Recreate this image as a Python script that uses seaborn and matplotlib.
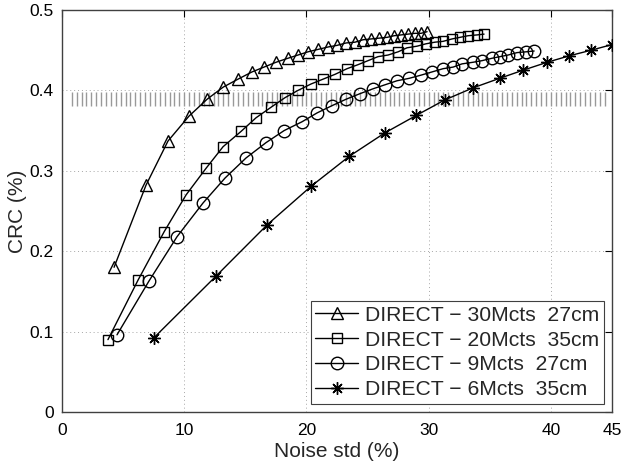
import numpy as np
import pandas as pd
import seaborn as sns
import matplotlib.pyplot as plt

# Valores (Noise std en %, CRC)
tri_x = [4.26, 6.87, 8.67, 10.39, 11.87, 13.18, 14.40, 15.55, 16.53, 17.51, 18.49, 19.31,
         20.13, 20.95, 21.77, 22.50, 23.24, 23.98, 24.63, 25.29, 25.94, 26.60, 27.17, 27.74,
         28.31, 28.89, 29.38, 29.87]
tri_y = [0.180, 0.282, 0.337, 0.368, 0.389, 0.404, 0.414, 0.423, 0.429, 0.435, 0.440, 0.444,
         0.448, 0.451, 0.454, 0.456, 0.459, 0.460, 0.463, 0.464, 0.465, 0.466, 0.468, 0.469,
         0.470, 0.471, 0.471, 0.473]

sq_x = [3.76, 6.22, 8.35, 10.15, 11.78, 13.18, 14.65, 15.88, 17.10, 18.25, 19.31, 20.38,
        21.36, 22.34, 23.32, 24.22, 25.04, 25.86, 26.68, 27.50, 28.23, 29.05, 29.79, 30.52,
        31.18, 31.91, 32.57, 33.22, 33.96, 34.53]
sq_y = [0.090, 0.164, 0.224, 0.270, 0.303, 0.330, 0.349, 0.366, 0.379, 0.391, 0.400, 0.408,
        0.414, 0.420, 0.427, 0.432, 0.437, 0.442, 0.444, 0.448, 0.453, 0.455, 0.458, 0.460,
        0.461, 0.464, 0.466, 0.468, 0.469, 0.470]

circ_x = [4.50, 7.12, 9.41, 11.54, 13.34, 15.06, 16.69, 18.17, 19.64, 20.87, 22.09, 23.24,
          24.39, 25.45, 26.43, 27.41, 28.40, 29.38, 30.28, 31.18, 32.00, 32.73, 33.63, 34.37,
          35.19, 35.84, 36.50, 37.23, 37.97, 38.63]
circ_y = [0.096, 0.163, 0.218, 0.260, 0.291, 0.316, 0.335, 0.350, 0.361, 0.372, 0.381, 0.389,
          0.396, 0.402, 0.407, 0.412, 0.415, 0.419, 0.423, 0.427, 0.429, 0.433, 0.435, 0.437,
          0.440, 0.442, 0.444, 0.447, 0.448, 0.449]

star_x = [7.5, 12.6, 16.8, 20.4, 23.5, 26.4, 29.0, 31.3, 33.6, 35.8, 37.7, 39.7, 41.5, 43.3, 45.0]
star_y = [0.092, 0.169, 0.233, 0.281, 0.318, 0.347, 0.369, 0.388, 0.403, 0.415, 0.425, 0.435,
          0.443, 0.450, 0.457]

labels = ['DIRECT \u2212 30Mcts  27cm', 'DIRECT \u2212 20Mcts  35cm',
          'DIRECT \u2212 9Mcts  27cm', 'DIRECT \u2212 6Mcts  35cm']

# Banda rayada (objetivo de CRC)
band_lo, band_hi = 0.381, 0.398
band_x = np.arange(0.8, 44.7, 0.4)

sns.set_style('white')
plt.rcParams['font.family'] = ['Liberation Sans', 'DejaVu Sans']

fig = plt.figure(figsize=(6.27, 4.66), dpi=100)
ax = fig.add_axes([62 / 627, 54 / 466, 550 / 627, 402 / 466])

ax.vlines(band_x, band_lo, band_hi, color='0.6', lw=1.0, zorder=1)

series = [(tri_x, tri_y, '^', 9), (sq_x, sq_y, 's', 7.5),
          (circ_x, circ_y, 'o', 9), (star_x, star_y, (8, 2, 0), 9)]
for (xs, ys, mk, ms), lab in zip(series, labels):
    df = pd.DataFrame({'x': xs, 'y': ys})
    sns.lineplot(data=df, x='x', y='y', ax=ax, sort=False, estimator=None,
                 color='black', lw=1.0, marker=mk, markersize=ms,
                 markerfacecolor='none', markeredgecolor='black',
                 markeredgewidth=1.0, label=lab, zorder=3)

ax.set_xlim(0, 45)
ax.set_ylim(0, 0.5)
ax.set_xticks([0, 10, 20, 30, 40, 45])
ax.set_xticklabels(['0', '10', '20', '30', '40', '45'])
ax.set_yticks([0, 0.1, 0.2, 0.3, 0.4, 0.5])
ax.set_yticklabels(['0', '0.1', '0.2', '0.3', '0.4', '0.5'])
ax.grid(True, linestyle=(0, (1, 3)), color='0.65', lw=0.7)
ax.tick_params(direction='in', length=5, width=0.8, top=True, right=True,
               labelsize=12.5, colors='black')
ax.tick_params(axis='x', pad=8)
ax.tick_params(axis='y', pad=6)
for s in ax.spines.values():
    s.set_color('0.25')
    s.set_linewidth(1.0)

ax.set_xlabel('Noise std (%)', fontsize=15, labelpad=3)
ax.set_ylabel('CRC (%)', fontsize=15, labelpad=2)

leg = ax.legend(loc='lower right', fontsize=15.2, frameon=True, fancybox=False,
                edgecolor='0.25', framealpha=1, borderaxespad=0.4, labelspacing=0.28,
                handlelength=2.0, handletextpad=0.35, borderpad=0.2)
leg.get_frame().set_linewidth(0.8)

fig.savefig('out.png', dpi=100)
